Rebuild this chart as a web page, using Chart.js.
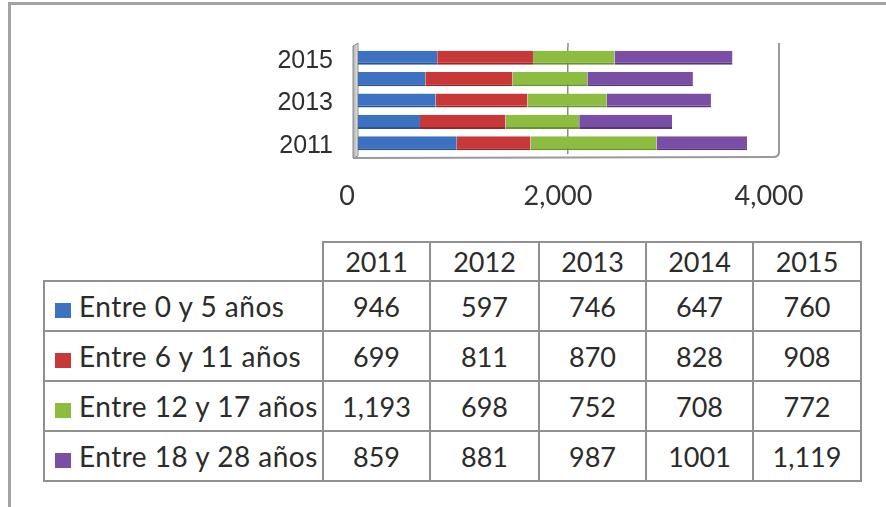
<!DOCTYPE html>
<html>
<head>
<meta charset="utf-8">
<script src="https://cdn.jsdelivr.net/npm/chart.js@4/dist/chart.umd.min.js"></script>
<style>
  html, body { margin: 0; padding: 0; background: #fff; }
  body { width: 886px; height: 507px; position: relative; overflow: hidden; }
  .frame { position: absolute; left: 8px; top: 2px; right: -10px; bottom: -10px; border-top: 3px solid #a3a3a3; border-left: 3px solid #a3a3a3; }
  .chart-box { position: absolute; left: 0; top: 0; width: 886px; height: 230px; }
  #tbl { position: absolute; left: 43px; top: 241px; width: 817px; table-layout: fixed; border-collapse: collapse;
         font-family: Lato, "Open Sans", sans-serif; font-size: 27px; color: #2b2b2b; }
  #tbl td { border: 2px solid #909090; padding: 0; text-align: center; white-space: nowrap; height: 48px; }
  #tbl tr.head td { height: 37px; }
  #tbl td.blank { border-top: none; border-left: none; }
  #tbl td.name { text-align: left; font-size: 28px; letter-spacing: 0.5px; }
  .sw { display: inline-block; width: 16px; height: 15px; margin: 0 8px 0 10px; vertical-align: -1px; }
</style>
</head>
<body>
<div class="frame"></div>
<div class="chart-box"><canvas id="c"></canvas></div>
<table id="tbl"></table>
<script>
// === Data ===
const years = ['2011', '2012', '2013', '2014', '2015'];
const groups = ['Entre 0 y 5 años', 'Entre 6 y 11 años', 'Entre 12 y 17 años', 'Entre 18 y 28 años'];
const age0to5 = [946, 597, 746, 647, 760];
const age6to11 = [699, 811, 870, 828, 908];
const age12to17 = [1193, 698, 752, 708, 772];
const age18to28 = [859, 881, 987, 1001, 1119];
const xTicks = [0, 2000, 4000];
const ungrouped = [1001]; // the source table prints this one without a separator

const colors = ['#3d72c3', '#c93838', '#8cbc40', '#7a4ea5'];
const edges = ['#2a5496', '#9a2626', '#6a9429', '#57367c'];
const series = [age0to5, age6to11, age12to17, age18to28];

const fmt = v => ungrouped.includes(v) ? String(v) : v.toLocaleString('en-US');

// === 3D-ish walls (left wall + floor) ===
const walls = {
  id: 'walls',
  beforeDatasetsDraw(chart) {
    const { ctx, chartArea: a, scales: { x } } = chart;
    const x0 = x.getPixelForValue(0), x1 = x.getPixelForValue(4000);
    ctx.save();
    const g = ctx.createLinearGradient(x0 - 5, 0, x0 + 1, 0);
    g.addColorStop(0, '#a0a0a0'); g.addColorStop(1, '#e6e6e6');
    ctx.fillStyle = g;
    ctx.beginPath();
    ctx.moveTo(x0 - 4, a.top - 1);
    ctx.lineTo(x0 + 1, a.top - 4);
    ctx.lineTo(x0 + 1, a.bottom + 2);
    ctx.lineTo(x0 - 4, a.bottom + 4);
    ctx.closePath();
    ctx.fill();
    ctx.strokeStyle = '#8a8a8a';
    ctx.lineWidth = 1;
    ctx.stroke();
    ctx.strokeStyle = '#9a9a9a';
    ctx.lineWidth = 2;
    ctx.beginPath();
    ctx.moveTo(x0 - 4, a.bottom + 4);
    ctx.lineTo(x1 - 6, a.bottom + 3);
    ctx.quadraticCurveTo(x1, a.bottom + 3, x1, a.bottom - 2);
    ctx.lineTo(x1, a.top - 4);
    ctx.stroke();
    // gridline at 2,000 reaches a bit above the plot like the 3D back wall
    const xm = x.getPixelForValue(2000);
    ctx.strokeStyle = '#8c8c8c';
    ctx.lineWidth = 1.5;
    ctx.beginPath();
    ctx.moveTo(xm, a.top - 4);
    ctx.lineTo(xm, a.top);
    ctx.stroke();
    ctx.restore();
  }
};

new Chart(document.getElementById('c'), {
  type: 'bar',
  data: {
    labels: years,
    datasets: series.map((d, i) => ({
      label: groups[i], data: d,
      backgroundColor: colors[i], borderColor: edges[i],
      borderWidth: { top: 0, left: 0, right: 0, bottom: 2 }, borderSkipped: false,
      categoryPercentage: 1, barPercentage: 0.66
    }))
  },
  options: {
    indexAxis: 'y',
    responsive: true, maintainAspectRatio: false, animation: false,
    layout: { padding: { top: 47, right: 107, left: 0, bottom: 0 } },
    plugins: { legend: { display: false }, tooltip: { enabled: false } },
    scales: {
      x: {
        stacked: true, min: 0, max: 4000,
        afterBuildTicks: s => { s.ticks = xTicks.map(v => ({ value: v })); },
        afterFit: s => { s.height = 76; },
        grid: { color: '#8c8c8c', lineWidth: 1.5, drawTicks: false },
        border: { display: false },
        ticks: { padding: 26, labelOffset: -10, color: '#333', font: { family: 'Lato', size: 27 }, callback: v => v.toLocaleString('en-US') }
      },
      y: {
        stacked: true, reverse: true,
        afterFit: s => { s.width = 357; },
        grid: { display: false }, border: { display: false },
        ticks: { padding: 16, labelOffset: 3, color: '#2e2e2e', font: { family: 'Liberation Sans', size: 25 }, callback: (v, i) => i % 2 === 0 ? years[i] : '' }
      }
    }
  },
  plugins: [walls]
});

// === Data table ===
const tbl = document.getElementById('tbl');
const widths = [279, 107, 109, 107, 107, 108];
tbl.innerHTML = '<colgroup>' + widths.map(w => `<col style="width:${w}px">`).join('') + '</colgroup>' +
  `<tr class="head"><td class="blank"></td>${years.map(y => `<td>${y}</td>`).join('')}</tr>` +
  series.map((d, i) => `<tr><td class="name"><span class="sw" style="background:${colors[i]}"></span>${groups[i]}</td>${d.map(v => `<td>${fmt(v)}</td>`).join('')}</tr>`).join('');
</script>
</body>
</html>
